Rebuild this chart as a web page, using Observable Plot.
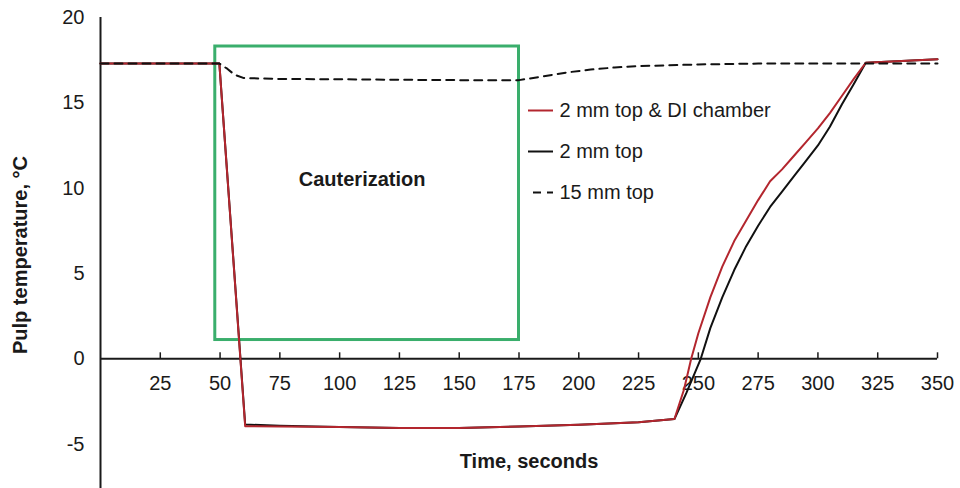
<!DOCTYPE html>
<html><head><meta charset="utf-8">
<script src="https://cdn.jsdelivr.net/npm/d3@7"></script>
<script src="https://cdn.jsdelivr.net/npm/@observablehq/plot@0.6"></script>
<style>body{margin:0;background:#fff} #chart svg{display:block}</style>
</head><body><div id="chart"></div>
<script>
// ---- data ----
const seriesNames = ["2 mm top & DI chamber", "2 mm top", "15 mm top"];
const diTime = [0, 49.7, 60.5, 75, 100, 125, 150, 175, 200, 225, 240, 244, 247, 250, 255, 260, 265, 270, 275, 280, 285, 290, 295, 300, 305, 310, 315, 320, 335, 350];
const diTemp = [17.3, 17.3, -3.95, -3.97, -4.0, -4.05, -4.05, -3.97, -3.87, -3.72, -3.53, -1.8, 0, 1.5, 3.6, 5.4, 6.9, 8.1, 9.3, 10.4, 11.1, 11.9, 12.7, 13.5, 14.4, 15.4, 16.4, 17.35, 17.45, 17.55];
const topTime = [0, 49.7, 60.5, 75, 100, 125, 150, 175, 200, 225, 240, 245, 251, 255, 260, 265, 270, 275, 280, 285, 290, 295, 300, 305, 310, 315, 320, 335, 350];
const topTemp = [17.3, 17.3, -3.85, -3.92, -4.0, -4.05, -4.05, -3.97, -3.87, -3.72, -3.53, -2.0, 0, 1.8, 3.6, 5.2, 6.6, 7.8, 8.9, 9.8, 10.7, 11.6, 12.5, 13.6, 14.9, 16.1, 17.35, 17.45, 17.55];
const deepTime = [0, 49.7, 53, 56, 60, 75, 100, 125, 150, 175, 185, 195, 205, 215, 225, 250, 275, 300, 325, 350];
const deepTemp = [17.3, 17.3, 17.0, 16.65, 16.45, 16.4, 16.38, 16.35, 16.33, 16.33, 16.55, 16.78, 16.95, 17.07, 17.15, 17.25, 17.3, 17.3, 17.3, 17.3];
const xTicks = [25, 50, 75, 100, 125, 150, 175, 200, 225, 250, 275, 300, 325, 350];
const yTicks = [20, 15, 10, 5, 0, -5];
const yTickLabels = ["20", "15", "10", "5", "0", "-5"];
const cauterizationTime = [48, 175];
const cauterizationBand = [1.1, 18.3];
const annotationLabel = "Cauterization";
const xTitle = "Time, seconds";
const yTitle = "Pulp temperature, °C";

// ---- layout ----
const W = 960, H = 488, mL = 100, mR = 23, mT = 17, mB = 0;
const xDomain = [0, 350], yDomain = [-7.6, 20];
const px2x = px => xDomain[0] + (px - mL) / (W - mL - mR) * (xDomain[1] - xDomain[0]);
const px2y = py => yDomain[1] - (py - mT) / (H - mT - mB) * (yDomain[1] - yDomain[0]);
const font = "'Liberation Sans', Arial, sans-serif";
const ink = "#1a1a1a";
const red = "#b3262e", black = "#111111", green = "#3aae6c";
const colors = [red, black, black];
const dashes = [null, null, "8,6"];

const zip = (t, v) => t.map((d, i) => ({t: d, v: v[i]}));
const di = zip(diTime, diTemp), top2 = zip(topTime, topTemp), deep = zip(deepTime, deepTemp);
const box = [{x1: cauterizationTime[0], x2: cauterizationTime[1], y1: cauterizationBand[0], y2: cauterizationBand[1]}];

const legendRows = seriesNames.map((name, i) => ({
  name, i,
  x1: px2x(i === 2 ? 533 : 528), x2: px2x(553), xt: px2x(559),
  y: px2y(110 + i * 41)
}));

const tickLen = (yDomain[1] - yDomain[0]) / (H - mT - mB) * 6;

const chart = Plot.plot({
  width: W, height: H,
  marginLeft: mL, marginRight: mR, marginTop: mT, marginBottom: mB,
  x: {domain: xDomain, axis: null},
  y: {domain: yDomain, axis: null},
  style: {fontFamily: font, color: ink, background: "#fff"},
  marks: [
    Plot.rect(box, {x1: "x1", x2: "x2", y1: "y1", y2: "y2", fill: "none", stroke: green, strokeWidth: 3}),
    Plot.ruleX([0], {stroke: ink, strokeWidth: 2}),
    Plot.ruleY([0], {stroke: ink, strokeWidth: 2}),
    Plot.ruleX(xTicks, {x: d => d, y1: 0, y2: tickLen, stroke: ink, strokeWidth: 1.5}),
    Plot.text(xTicks, {x: d => d, y: 0, dy: 25, text: d => String(d), fontSize: 20, fill: ink}),
    Plot.text(yTicks, {x: 0, y: d => d, dx: -16, textAnchor: "end", text: (d, i) => yTickLabels[i], fontSize: 20, fill: ink}),
    Plot.line(top2, {x: "t", y: "v", stroke: black, strokeWidth: 2, strokeLinejoin: "round"}),
    Plot.line(di, {x: "t", y: "v", stroke: red, strokeWidth: 2, strokeLinejoin: "round"}),
    Plot.line(deep, {x: "t", y: "v", stroke: black, strokeWidth: 2, strokeDasharray: "8,6"}),
    Plot.text([annotationLabel], {x: (cauterizationTime[0] + cauterizationTime[1]) / 2, y: (cauterizationBand[0] + cauterizationBand[1]) / 2, dx: -5, dy: -14, text: d => d, fontSize: 20, fontWeight: "bold", fill: ink}),
    ...legendRows.map(r => Plot.ruleY([r], {x1: "x1", x2: "x2", y: "y", stroke: colors[r.i], strokeWidth: 2, strokeDasharray: dashes[r.i] || undefined})),
    Plot.text(legendRows, {x: "xt", y: "y", text: "name", textAnchor: "start", fontSize: 20, fill: ink}),
    Plot.text([xTitle], {frameAnchor: "bottom", textAnchor: "middle", lineAnchor: "middle", dx: 10, dy: -27, text: d => d, fontSize: 20, fontWeight: "bold", fill: ink}),
    Plot.text([yTitle], {frameAnchor: "left", textAnchor: "middle", lineAnchor: "middle", dx: -80, dy: 2, rotate: -90, text: d => d, fontSize: 20, fontWeight: "bold", fill: ink})
  ]
});
document.getElementById("chart").appendChild(chart);
</script>
</body></html>
